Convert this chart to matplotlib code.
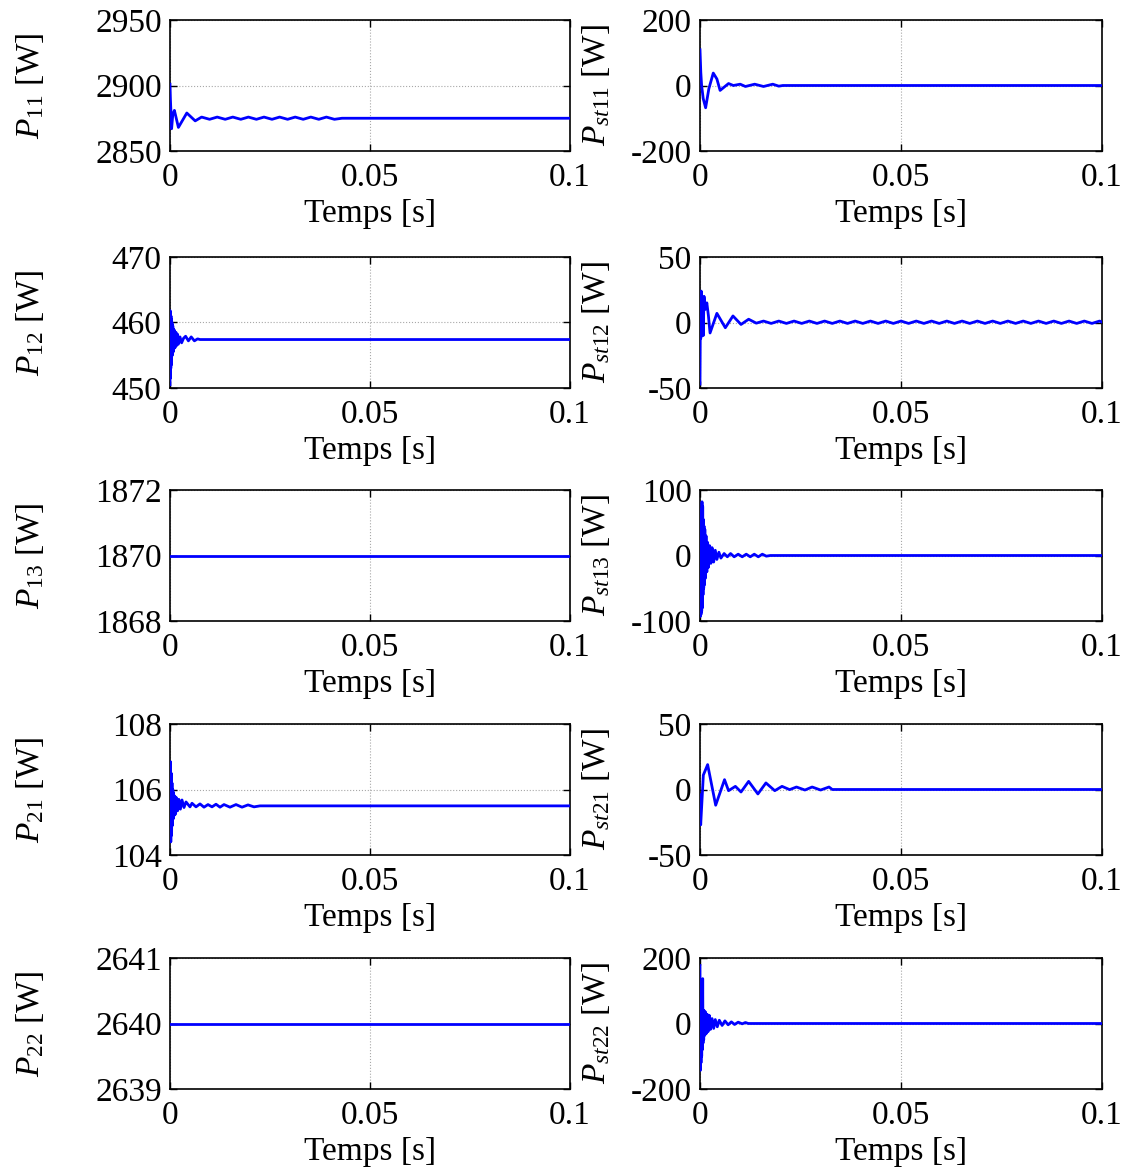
import matplotlib
matplotlib.use("Agg")
from matplotlib import pyplot as plt

plt.rcParams["font.family"] = ["Liberation Serif", "DejaVu Serif"]
plt.rcParams["mathtext.fontset"] = "custom"
plt.rcParams["mathtext.rm"] = "Liberation Serif"
plt.rcParams["mathtext.it"] = "Liberation Serif:italic"
plt.rcParams["axes.unicode_minus"] = False

# time axis ticks
x_ticks = [0, 0.05, 0.1]
x_ticklabels = ["0", "0.05", "0.1"]

# P11 [W]
t_p11 = [0, 0.0001, 0.0004, 0.0007, 0.0011, 0.0021, 0.0042, 0.0063,
         0.0079, 0.0099, 0.0118, 0.0138, 0.0157, 0.0177, 0.0196, 0.0216,
         0.0235, 0.0255, 0.0274, 0.0294, 0.0313, 0.0333, 0.0352, 0.0372,
         0.0391, 0.0411, 0.043, 0.1]
p11 = [2901, 2890, 2867, 2878, 2881, 2868, 2879, 2873,
       2875.9, 2874.2, 2875.9, 2874.2, 2875.9, 2874.2, 2875.9, 2874.2,
       2875.9, 2874.2, 2875.9, 2874.2, 2875.9, 2874.2, 2875.9, 2874.2,
       2875.9, 2874.2, 2875, 2875]

# Pst11 [W]
t_pst11 = [0, 0.0002, 0.0004, 0.0008, 0.0014, 0.0022, 0.0033, 0.0042,
           0.005, 0.0071, 0.0083, 0.01, 0.0113, 0.0136, 0.0158, 0.0181,
           0.0196, 0.0206, 0.1]
pst11 = [109, 40, 0, -40, -68, -10, 38, 20,
         -15, 6, 0, 4, -3, 4, -3, 4,
         -2, 0, 0]

# P12 [W]
t_p12 = [0, 0.00005, 0.0001, 0.00015, 0.0002, 0.00025, 0.0003, 0.00035,
         0.0004, 0.0005, 0.0006, 0.0007, 0.0008, 0.0009, 0.001, 0.00115,
         0.0013, 0.0015, 0.0017, 0.0019, 0.0021, 0.0025, 0.0029, 0.0034,
         0.0039, 0.0046, 0.0053, 0.0061, 0.0069, 0.0075, 0.1]
p12 = [450.5, 461.8, 451.5, 461.5, 453, 461, 453.5, 460.5,
       454.5, 460, 455, 459.5, 455.5, 459, 456, 458.8,
       456.2, 458.5, 456.5, 458.2, 456.7, 457.8, 456.9, 457.6,
       457.9, 457.2, 457.8, 457.2, 457.5, 457.4, 457.4]

# Pst12 [W]
t_pst12 = [0, 0.0001, 0.0002, 0.0003, 0.0004, 0.0006, 0.0008, 0.001,
           0.0013, 0.0017, 0.0021, 0.0025, 0.0042, 0.0063, 0.0082, 0.0102,
           0.0121, 0.014, 0.0158, 0.0177, 0.0196, 0.0215, 0.0234, 0.0253,
           0.0272, 0.0291, 0.031, 0.0329, 0.0348, 0.0367, 0.0386, 0.0405,
           0.0424, 0.0443, 0.0462, 0.0481, 0.05, 0.0519, 0.0538, 0.0557,
           0.0576, 0.0595, 0.0614, 0.0633, 0.0652, 0.0671, 0.069, 0.0709,
           0.0728, 0.0747, 0.0766, 0.0785, 0.0804, 0.0823, 0.0842, 0.0861,
           0.088, 0.0899, 0.0918, 0.0937, 0.0956, 0.0975, 0.0994, 0.1]
pst12 = [-47, 10, -12, 24, 5, 18, -10, 20,
         10, 15, 5, -8, 7, -4, 5, -1.5,
         2.5, -0.5, 1.1, -0.7, 1.1, -0.7, 1.1, -0.7,
         1.1, -0.7, 1.1, -0.7, 1.1, -0.7, 1.1, -0.7,
         1.1, -0.7, 1.1, -0.7, 1.1, -0.7, 1.1, -0.7,
         1.1, -0.7, 1.1, -0.7, 1.1, -0.7, 1.1, -0.7,
         1.1, -0.7, 1.1, -0.7, 1.1, -0.7, 1.1, -0.7,
         1.1, -0.7, 1.1, -0.7, 1.1, -0.7, 1.1, 0.3]

# P13 [W]
t_p13 = [0, 0.1]
p13 = [1870, 1870]

# Pst13 [W]
t_pst13 = [0, 0.00008, 0.00017, 0.00025, 0.00033, 0.00042, 0.0005, 0.00058,
           0.00067, 0.00075, 0.00083, 0.00092, 0.001, 0.0011, 0.0012, 0.0013,
           0.0015, 0.0017, 0.0019, 0.0021, 0.0024, 0.0027, 0.003, 0.0034,
           0.0038, 0.0042, 0.0047, 0.0052, 0.006, 0.0068, 0.0076, 0.0085,
           0.0095, 0.0105, 0.0115, 0.0125, 0.0135, 0.0145, 0.0155, 0.0165,
           0.0175, 0.1]
pst13 = [60, -93, 65, -90, 70, -85, 82, -80,
         75, -60, 55, -50, 45, -45, 40, -35,
         30, -25, 20, -18, 15, -12, 12, -10,
         8, -6, 5, -4, 3, -2, 3, -2,
         2, -2, 2, -2, 2, -2, 2, -1,
         0, 0]

# P21 [W]
t_p21 = [0, 0.0001, 0.0002, 0.0003, 0.0004, 0.0005, 0.0006, 0.0007,
         0.0008, 0.0009, 0.001, 0.0012, 0.0014, 0.0016, 0.0019, 0.0022,
         0.0026, 0.003, 0.0035, 0.004, 0.005, 0.0055, 0.0065, 0.0075,
         0.0085, 0.0095, 0.0105, 0.0115, 0.0125, 0.0135, 0.015, 0.0165,
         0.018, 0.0195, 0.021, 0.0225, 0.1]
p21 = [105, 106.85, 104.4, 106.5, 104.6, 106.2, 104.9, 106,
       105.1, 105.9, 105.2, 105.8, 105.25, 105.75, 105.35, 105.7,
       105.4, 105.68, 105.45, 105.62, 105.47, 105.58, 105.47, 105.56,
       105.46, 105.54, 105.47, 105.55, 105.46, 105.54, 105.46, 105.54,
       105.46, 105.53, 105.47, 105.5, 105.5]

# Pst21 [W]
t_pst21 = [0, 0.00017, 0.00083, 0.0019, 0.0039, 0.0061, 0.0071, 0.0088,
           0.0102, 0.0121, 0.0144, 0.0164, 0.0186, 0.0204, 0.0223, 0.024,
           0.0261, 0.0279, 0.03, 0.0321, 0.0329, 0.1]
pst21 = [-4, -27, 11, 19, -12, 7.5, -0.9, 2.4,
         -1.9, 6.2, -3.4, 5, -0.9, 2.4, -0.1, 1.9,
         -0.4, 1.9, -0.4, 1.9, 0, 0]

# P22 [W]
t_p22 = [0, 0.1]
p22 = [2640, 2640]

# Pst22 [W]
t_pst22 = [0, 0.00008, 0.00017, 0.00025, 0.00033, 0.00042, 0.0005, 0.00058,
           0.00067, 0.00075, 0.00083, 0.00092, 0.001, 0.0012, 0.0014, 0.0016,
           0.0018, 0.002, 0.0023, 0.0026, 0.003, 0.0034, 0.0038, 0.0043,
           0.0048, 0.0055, 0.0062, 0.007, 0.0078, 0.0086, 0.0095, 0.0105,
           0.0113, 0.012, 0.1]
pst22 = [177, -143, 120, -120, 90, -100, 60, -80,
         137, -60, 40, -50, 40, -36, 35, -30,
         28, -25, 25, -18, 15, -15, 12, -10,
         10, -6, 8, -4, 5, -3, 4, -1,
         3, 0, 0]

labels = [r"$\mathit{P}_{\mathit{11}}$ [W]", r"$\mathit{P}_{\mathit{st11}}$ [W]",
          r"$\mathit{P}_{\mathit{12}}$ [W]", r"$\mathit{P}_{\mathit{st12}}$ [W]",
          r"$\mathit{P}_{\mathit{13}}$ [W]", r"$\mathit{P}_{\mathit{st13}}$ [W]",
          r"$\mathit{P}_{\mathit{21}}$ [W]", r"$\mathit{P}_{\mathit{st21}}$ [W]",
          r"$\mathit{P}_{\mathit{22}}$ [W]", r"$\mathit{P}_{\mathit{st22}}$ [W]"]
y_ticks = [[2850, 2900, 2950], [-200, 0, 200],
           [450, 460, 470], [-50, 0, 50],
           [1868, 1870, 1872], [-100, 0, 100],
           [104, 106, 108], [-50, 0, 50],
           [2639, 2640, 2641], [-200, 0, 200]]
series = [(t_p11, p11), (t_pst11, pst11),
          (t_p12, p12), (t_pst12, pst12),
          (t_p13, p13), (t_pst13, pst13),
          (t_p21, p21), (t_pst21, pst21),
          (t_p22, p22), (t_pst22, pst22)]

W, H = 1126, 1167
fig = plt.figure(figsize=(W / 100, H / 100), dpi=100)

row_tops = [20, 257, 490, 724, 958]
col_left = [170, 700]
col_width = [400, 402]
ax_h = 131

for i, (t, v) in enumerate(series):
    r, c = divmod(i, 2)
    ax = fig.add_axes([col_left[c] / W, 1 - (row_tops[r] + ax_h) / H,
                       col_width[c] / W, ax_h / H])
    ax.plot(t, v, color="#0000ff", lw=2, zorder=3)
    ax.set_xlim(0, 0.1)
    ax.set_ylim(y_ticks[i][0], y_ticks[i][-1])
    ax.set_xticks(x_ticks)
    ax.set_xticklabels(x_ticklabels)
    ax.set_yticks(y_ticks[i])
    ax.set_yticklabels([str(y) for y in y_ticks[i]])
    ax.grid(True, color="#a8a8a8", lw=0.8, ls=":")
    ax.tick_params(direction="in", top=True, right=True, length=5,
                   width=1, labelsize=24, pad=6)
    ax.tick_params(axis="x", pad=8)
    for s in ax.spines.values():
        s.set_linewidth(1.2)
    ax.set_xlabel("Temps [s]", fontsize=24)
    ax.xaxis.set_label_coords(0.5, -0.36)
    ax.set_ylabel(labels[i], fontsize=24)
    if c == 0:
        ax.yaxis.set_label_coords(-0.31, 0.5)
    else:
        ax.yaxis.set_label_coords(-0.22, 0.5)

fig.savefig("out.png", dpi=100)
